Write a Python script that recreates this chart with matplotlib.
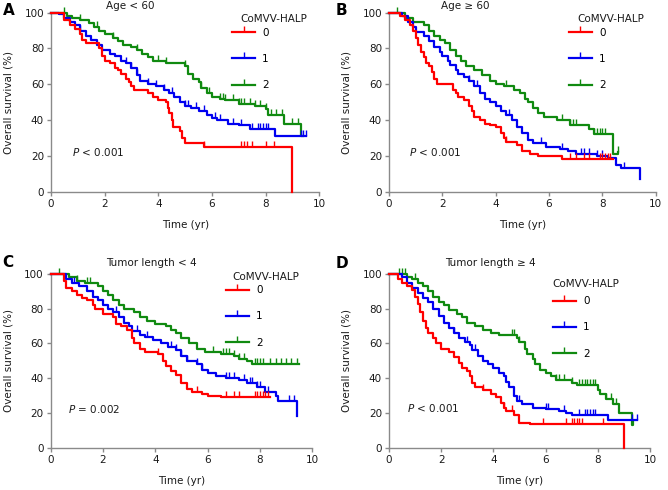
import numpy as np
import matplotlib
matplotlib.use("Agg")
import matplotlib.pyplot as plt
from matplotlib.lines import Line2D

plt.rcParams["font.family"] = "DejaVu Sans"
plt.rcParams["font.size"] = 7.5
plt.rcParams["mathtext.fontset"] = "dejavusans"

GROUPS = ["0", "1", "2"]
COLORS = ["#ff0000", "#0000f0", "#108a10"]

# ---- panel A: Age < 60 ----
a0_t = [0, 0.5, 0.7, 0.9, 1.1, 1.15, 1.3, 1.8, 1.9, 2.0, 2.2, 2.4, 2.5, 2.6, 2.8, 2.9, 3.0, 3.1,
        3.6, 3.8, 4.0, 4.3, 4.35, 4.4, 4.5, 4.55, 4.8, 4.9, 5.0, 5.7, 9.0]
a0_s = [100, 96, 93, 91, 88, 85, 83, 80, 76, 73, 72, 69, 68, 66, 63, 61, 59, 57,
        55, 53, 51, 50, 47, 44, 40, 36, 34, 30, 27, 25, 0]
a0_c = [5.7, 7.1, 7.2, 7.3, 7.5, 8.0, 8.3]
a1_t = [0, 0.3, 0.5, 0.7, 0.9, 1.1, 1.3, 1.5, 1.7, 1.9, 2.2, 2.4, 2.6, 2.8, 3.0, 3.2, 3.3, 3.6,
        3.9, 4.2, 4.4, 4.6, 4.8, 5.0, 5.2, 5.5, 5.8, 6.0, 6.2, 6.6, 7.0, 7.4, 8.35, 9.5]
a1_s = [100, 99, 97, 95, 93, 90, 87, 85, 82, 79, 77, 76, 73, 72, 69, 65, 62, 60,
        59, 57, 55, 53, 50, 48, 47, 45, 43, 41, 40, 38, 37, 35, 31, 31]
a1_c = [1.1, 2.8, 3.0, 3.2, 3.6, 3.9, 4.2, 4.5, 5.0, 5.1, 5.4, 5.7, 6.1, 6.3, 6.8, 7.1, 7.5,
        7.7, 7.8, 7.9, 8.0, 8.1, 9.3, 9.4, 9.5]
a2_t = [0, 0.6, 0.8, 1.1, 1.4, 1.6, 1.8, 2.0, 2.3, 2.5, 2.7, 3.0, 3.2, 3.4, 3.6, 3.8, 4.3, 5.0,
        5.1, 5.3, 5.5, 5.6, 5.8, 6.0, 6.3, 6.5, 7.0, 7.6, 8.0, 8.1, 8.7, 9.3, 9.4]
a2_s = [100, 98, 97, 96, 94, 92, 90, 88, 86, 84, 82, 81, 79, 77, 75, 73, 72, 70,
        66, 63, 61, 58, 55, 53, 52, 51, 49, 48, 46, 43, 38, 31, 31]
a2_c = [0.5, 1.1, 1.7, 2.3, 3.2, 4.0, 4.3, 5.0, 5.6, 5.9, 6.3, 6.4, 6.5, 6.8, 7.0, 7.1, 7.2,
        7.4, 7.6, 7.8, 8.0, 8.2, 8.4, 8.6, 9.0, 9.2]

# ---- panel B: Age >= 60 ----
b0_t = [0, 0.4, 0.6, 0.8, 0.9, 1.0, 1.1, 1.2, 1.3, 1.4, 1.5, 1.6, 1.7, 1.8, 2.4, 2.5, 2.6, 2.8,
        3.0, 3.1, 3.2, 3.4, 3.6, 3.8, 4.0, 4.2, 4.3, 4.4, 4.8, 5.0, 5.3, 5.6, 6.5, 8.4]
b0_s = [100, 98, 96, 93, 90, 86, 82, 78, 75, 72, 70, 67, 63, 60, 57, 55, 53, 51,
        48, 45, 42, 40, 38, 37, 36, 33, 30, 28, 26, 23, 21, 20, 18, 18]
b0_c = [4.4, 6.8, 7.0, 7.3, 7.5, 7.9, 8.0, 8.1, 8.2, 8.3]
b1_t = [0, 0.5, 0.7, 0.9, 1.0, 1.3, 1.5, 1.7, 1.9, 2.0, 2.2, 2.3, 2.5, 2.6, 2.8, 3.0, 3.2, 3.4,
        3.6, 3.8, 4.0, 4.2, 4.4, 4.6, 4.8, 5.0, 5.2, 5.4, 5.9, 6.4, 6.7, 7.0, 7.8, 8.2, 8.5, 8.7, 9.4]
b1_s = [100, 98, 95, 92, 89, 87, 84, 81, 78, 76, 73, 71, 68, 66, 64, 62, 59, 55,
        52, 50, 48, 45, 43, 40, 36, 33, 29, 27, 25, 24, 23, 21, 20, 19, 15, 13, 7]
b1_c = [3.0, 3.3, 4.5, 5.7, 6.5, 7.2, 7.3, 7.5, 7.8, 8.0, 8.8]
b2_t = [0, 0.6, 0.9, 1.3, 1.5, 1.7, 1.9, 2.1, 2.3, 2.5, 2.7, 2.9, 3.2, 3.5, 3.8, 4.0, 4.3, 4.7,
        4.9, 5.1, 5.2, 5.4, 5.6, 5.8, 6.3, 6.8, 7.5, 7.7, 8.4, 8.6]
b2_s = [100, 97, 95, 93, 90, 87, 85, 83, 79, 76, 73, 70, 68, 65, 62, 60, 59, 57,
        55, 52, 50, 47, 44, 42, 40, 37, 35, 32, 21, 22]
b2_c = [0.3, 4.4, 6.5, 6.8, 6.9, 7.0, 7.7, 7.8, 7.9, 8.0, 8.1, 8.6]

# ---- panel C: Tumor length < 4 ----
c0_t = [0, 0.5, 0.6, 0.8, 1.0, 1.2, 1.4, 1.6, 1.7, 2.0, 2.4, 2.5, 2.7, 2.9, 3.1, 3.2, 3.4, 3.6,
        4.1, 4.3, 4.4, 4.6, 4.8, 5.0, 5.2, 5.4, 5.8, 6.0, 6.5, 8.4]
c0_s = [100, 96, 92, 90, 88, 86, 85, 82, 80, 77, 75, 71, 70, 68, 63, 60, 57, 55,
        54, 50, 47, 44, 42, 37, 34, 32, 31, 30, 29, 29]
c0_c = [4.1, 5.6, 6.7, 7.0, 7.2, 7.8, 7.9, 8.0, 8.1, 8.2, 8.3]
c1_t = [0, 0.6, 0.8, 1.1, 1.4, 1.6, 1.8, 2.0, 2.2, 2.4, 2.6, 2.8, 3.0, 3.1, 3.4, 3.6, 3.9, 4.2,
        4.5, 4.8, 5.0, 5.2, 5.6, 5.8, 6.0, 6.3, 6.7, 7.2, 7.5, 7.9, 8.2, 8.6, 8.7, 9.4]
c1_s = [100, 97, 95, 93, 90, 87, 85, 82, 80, 78, 75, 72, 70, 67, 65, 64, 62, 60,
        58, 56, 53, 50, 48, 45, 43, 41, 40, 39, 37, 35, 32, 30, 27, 18]
c1_c = [0.9, 2.5, 3.3, 3.7, 4.6, 4.8, 5.0, 5.2, 5.6, 5.8, 6.7, 6.8, 7.0, 7.4, 7.6, 7.7, 7.9,
        8.0, 8.3, 9.1, 9.3]
c2_t = [0, 0.7, 1.0, 1.3, 1.8, 2.0, 2.2, 2.4, 2.6, 2.8, 3.2, 3.4, 3.7, 4.0, 4.4, 4.6, 4.8, 5.0,
        5.3, 5.6, 5.9, 6.5, 7.0, 7.2, 7.5, 7.7, 9.5]
c2_s = [100, 98, 96, 95, 93, 90, 88, 85, 82, 80, 78, 75, 73, 71, 70, 68, 66, 63,
        60, 57, 55, 54, 53, 51, 50, 48, 48]
c2_c = [0.3, 1.0, 1.4, 1.5, 6.2, 6.6, 6.7, 6.8, 7.0, 7.2, 7.4, 7.8, 7.9, 8.0, 8.1, 8.4, 8.6,
        8.8, 9.0, 9.2, 9.4]

# ---- panel D: Tumor length >= 4 ----
d0_t = [0, 0.35, 0.5, 0.7, 0.9, 1.0, 1.1, 1.2, 1.3, 1.4, 1.5, 1.7, 1.8, 2.0, 2.3, 2.5, 2.7, 2.8,
        3.0, 3.1, 3.2, 3.3, 3.6, 3.9, 4.1, 4.3, 4.4, 4.5, 4.8, 5.0, 5.4, 9.0]
d0_s = [100, 97, 95, 93, 91, 87, 83, 78, 73, 69, 66, 63, 60, 57, 55, 52, 49, 46,
        44, 41, 37, 35, 33, 31, 29, 26, 23, 21, 19, 14.5, 13.5, 0]
d0_c = [3.6, 4.4, 4.7, 5.9, 6.8, 7.0, 7.1, 7.2, 7.3, 7.4, 8.2]
d1_t = [0, 0.5, 0.7, 0.9, 1.1, 1.3, 1.5, 1.7, 1.9, 2.1, 2.3, 2.5, 2.7, 2.9, 3.1, 3.2, 3.4, 3.6,
        3.8, 4.0, 4.2, 4.4, 4.5, 4.6, 4.8, 4.9, 5.1, 5.5, 6.0, 6.5, 6.8, 7.0, 8.4, 9.5]
d1_s = [100, 98, 95, 92, 89, 86, 84, 80, 76, 72, 69, 66, 63, 61, 59, 56, 53, 50,
        48, 46, 43, 41, 38, 35, 30, 27, 25, 23, 22, 21, 20, 19, 16, 16]
d1_c = [2.5, 3.0, 3.3, 5.0, 6.0, 6.1, 6.7, 7.3, 7.5, 7.6, 7.7, 7.8, 7.9, 9.3, 9.5]
d2_t = [0, 0.7, 0.9, 1.1, 1.3, 1.5, 1.7, 1.9, 2.1, 2.3, 2.6, 2.8, 3.0, 3.3, 3.6, 3.9, 4.2, 4.9,
        5.0, 5.2, 5.3, 5.5, 5.6, 5.8, 6.0, 6.2, 6.4, 7.0, 7.2, 8.0, 8.1, 8.3, 8.6, 8.8, 9.3, 9.35]
d2_s = [100, 98, 97, 95, 93, 90, 87, 84, 82, 79, 77, 75, 72, 70, 68, 66, 65, 63,
        61, 57, 54, 51, 48, 45, 43, 41, 39, 37, 36, 33, 31, 28, 25, 20, 13, 15]
d2_c = [0.4, 0.5, 0.6, 1.0, 4.7, 4.8, 5.0, 6.4, 6.5, 6.7, 7.0, 7.3, 7.4, 7.5, 7.6, 7.7, 7.8,
        7.9, 8.3, 8.5, 8.7, 9.3]

PANELS = [
    ("A", "Age < 60", r"$\it{P}$ < 0.001",
     [(a0_t, a0_s, a0_c), (a1_t, a1_s, a1_c), (a2_t, a2_s, a2_c)]),
    ("B", "Age \u2265 60", r"$\it{P}$ < 0.001",
     [(b0_t, b0_s, b0_c), (b1_t, b1_s, b1_c), (b2_t, b2_s, b2_c)]),
    ("C", "Tumor length < 4", r"$\it{P}$ = 0.002",
     [(c0_t, c0_s, c0_c), (c1_t, c1_s, c1_c), (c2_t, c2_s, c2_c)]),
    ("D", "Tumor length \u2265 4", r"$\it{P}$ < 0.001",
     [(d0_t, d0_s, d0_c), (d1_t, d1_s, d1_c), (d2_t, d2_s, d2_c)]),
]

# layout (figure fractions) and text placement per panel
AX_RECTS = [
    [0.0763, 0.6088, 0.4017, 0.3653],
    [0.5823, 0.6088, 0.3993, 0.3653],
    [0.0759, 0.0863, 0.3916, 0.3545],
    [0.5823, 0.0863, 0.3907, 0.3545],
]
TITLE_POS = [(0.295, 1.037), (0.285, 1.037), (0.383, 1.063), (0.387, 1.063)]
LEG_POS = [(0.675, 0.915), (0.675, 0.915), (0.67, 0.935), (0.628, 0.872)]
LEG_TITLE_POS = [(0.704, 0.965), (0.705, 0.965), (0.693, 0.983), (0.625, 0.942)]
P_POS = [(0.78, 22), (0.75, 22), (0.66, 22.3), (0.70, 22.8)]
LETTER_POS = [(0.004, 0.978), (0.503, 0.978), (0.004, 0.465), (0.503, 0.462)]

AXIS_GRAY = "#8a8a8a"


def surv_at(t, times, surv):
    idx = np.searchsorted(times, t, side="right") - 1
    return np.asarray(surv)[np.clip(idx, 0, len(surv) - 1)]


fig = plt.figure(figsize=(6.68, 4.90), dpi=100)

for k, (letter, title, ptxt, curves) in enumerate(PANELS):
    ax = fig.add_axes(AX_RECTS[k])
    for g in [2, 1, 0]:
        t, s, c = curves[g]
        ax.step(t, s, where="post", color=COLORS[g], lw=1.6, clip_on=False, zorder=3 + (2 - g))
        ax.plot(c, surv_at(np.array(c), np.array(t), s), ls="none", marker=2, ms=4,
                mew=1.0, color=COLORS[g], clip_on=False, zorder=3 + (2 - g))

    ax.set_xlim(0, 10)
    ax.set_ylim(0, 100)
    ax.set_xticks(range(0, 11, 2))
    ax.set_yticks(range(0, 101, 20))
    for side in ["top", "right"]:
        ax.spines[side].set_visible(False)
    for side in ["left", "bottom"]:
        ax.spines[side].set_color(AXIS_GRAY)
        ax.spines[side].set_linewidth(1.0)
    ax.tick_params(direction="out", length=3, width=1.0, color=AXIS_GRAY,
                   labelsize=7.5, labelcolor="#1a1a1a", pad=2)
    ax.set_xlabel("Time (yr)", fontsize=7.5, color="#1a1a1a", labelpad=8)
    ax.set_ylabel("Overall survival (%)", fontsize=7.5, color="#1a1a1a", labelpad=8)

    ax.text(TITLE_POS[k][0], TITLE_POS[k][1], title, transform=ax.transAxes,
            ha="center", va="center", fontsize=7.5, color="#1a1a1a")
    ax.text(P_POS[k][0], P_POS[k][1], ptxt, ha="left", va="center",
            fontsize=7.5, color="#1a1a1a")

    handles = [Line2D([], [], color=COLORS[g], lw=1.6, marker=2, ms=4, mew=1.0)
               for g in range(3)]
    ax.legend(handles, GROUPS, loc="upper left", bbox_to_anchor=LEG_POS[k],
              frameon=False, borderpad=0, borderaxespad=0, handlelength=2.2,
              handletextpad=0.7, labelspacing=1.55, fontsize=7.5, numpoints=1)
    ax.text(LEG_TITLE_POS[k][0], LEG_TITLE_POS[k][1], "CoMVV-HALP", transform=ax.transAxes,
            ha="left", va="center", fontsize=7.5, color="#1a1a1a")

    fig.text(LETTER_POS[k][0], LETTER_POS[k][1], letter, fontsize=11, fontweight="bold",
             ha="left", va="center")

fig.savefig("out.png", dpi=100)
